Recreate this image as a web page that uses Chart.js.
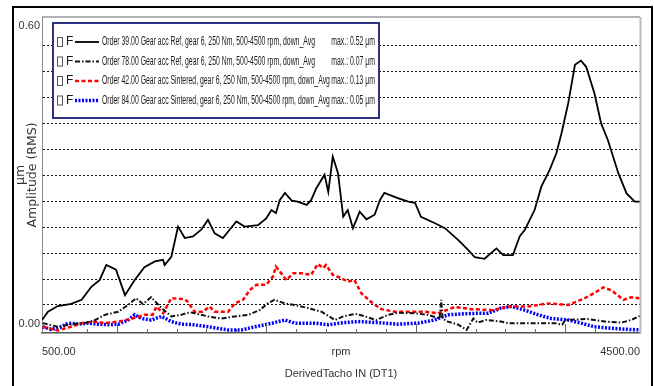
<!DOCTYPE html>
<html>
<head>
<meta charset="utf-8">
<script src="https://cdn.jsdelivr.net/npm/chart.js@4.4.0/dist/chart.umd.min.js"></script>
<style>
  html, body { margin: 0; padding: 0; background: #fff; }
  #wrap { position: relative; width: 654px; height: 386px; overflow: hidden; }
  #orderChart { position: absolute; left: 0; top: 0; }
  #frame { position: absolute; left: 12px; top: 6px; width: 641px; height: 420px;
           border: 2px solid #000; box-sizing: border-box; pointer-events: none; }
</style>
</head>
<body>
<div id="wrap">
  <canvas id="orderChart" width="654" height="386" style="width:654px;height:386px"></canvas>
  <div id="frame"></div>
</div>
<script>
// ============================================
// order tracks vs rpm (gear acc, gear 6, 250 Nm)
// ============================================

// --- Order 39.00, Ref (solid black) ---
const rpm39 = [500,540,605,695,765,830,885,930,995,1055,1120,1185,1255,1310,1320,1365,1410,1455,1510,1565,
  1610,1655,1710,1755,1800,1855,1945,2000,2035,2065,2090,2125,2170,2210,2270,2300,2335,2390,2415,2445,
  2480,2515,2545,2580,2625,2670,2725,2760,2790,2880,2950,2995,3035,3125,3195,3285,3350,3395,3460,3540,
  3585,3650,3695,3730,3795,3840,3895,3940,3975,4020,4065,4105,4140,4195,4240,4285,4355,4410,4465,4500];
const amp39 = [0.021,0.037,0.048,0.052,0.060,0.085,0.098,0.127,0.118,0.069,0.098,0.123,0.134,0.137,0.127,0.143,0.201,0.179,0.182,0.195,
  0.214,0.188,0.179,0.195,0.211,0.201,0.204,0.217,0.233,0.227,0.252,0.266,0.251,0.249,0.243,0.252,0.275,0.301,0.268,0.336,
  0.304,0.220,0.233,0.198,0.230,0.215,0.224,0.252,0.266,0.256,0.249,0.247,0.220,0.208,0.198,0.175,0.156,0.142,0.139,0.159,
  0.146,0.146,0.182,0.195,0.233,0.278,0.310,0.342,0.381,0.439,0.513,0.521,0.509,0.458,0.400,0.368,0.304,0.265,0.249,0.249];

// --- Order 78.00, Ref (dash-dot black) ---
const rpm78 = [505,605,695,785,855,920,1010,1075,1130,1175,1230,1300,1365,1430,1490,1610,1700,1790,1880,1955,
  2010,2055,2125,2190,2280,2370,2460,2515,2595,2660,2735,2815,2880,2995,3080,3160,3170,3180,3215,3285,
  3340,3385,3415,3470,3570,3615,3930,3980,4000,4150,4265,4375,4440,4500];
const amp78 = [0.015,0.008,0.013,0.015,0.021,0.031,0.037,0.050,0.063,0.052,0.065,0.044,0.028,0.031,0.036,0.028,0.024,0.028,0.031,0.040,
  0.053,0.060,0.053,0.050,0.044,0.037,0.021,0.028,0.033,0.028,0.021,0.031,0.035,0.034,0.031,0.024,0.060,0.024,0.018,0.012,
  0.002,0.024,0.016,0.021,0.018,0.015,0.015,0.012,0.021,0.023,0.018,0.016,0.021,0.029];

// --- Order 42.00, Sintered (red dashed) ---
const rpm42 = [505,605,695,765,855,920,1010,1095,1185,1240,1265,1310,1365,1455,1475,1520,1575,1620,1655,1745,
  1790,1845,1890,1935,2000,2045,2065,2100,2135,2180,2235,2300,2345,2380,2400,2445,2500,2545,2590,2635,
  2700,2770,2860,2970,3060,3150,3260,3370,3515,3615,3750,3885,4020,4130,4195,4255,4310,4390,4440,4500];
const amp42 = [0.008,0.001,0.008,0.015,0.018,0.015,0.018,0.023,0.031,0.031,0.047,0.034,0.063,0.061,0.056,0.037,0.037,0.047,0.037,0.037,
  0.053,0.060,0.079,0.089,0.089,0.105,0.124,0.111,0.098,0.111,0.111,0.108,0.129,0.121,0.127,0.108,0.102,0.095,0.098,0.073,
  0.056,0.042,0.037,0.037,0.037,0.034,0.046,0.042,0.040,0.047,0.047,0.053,0.050,0.063,0.073,0.084,0.078,0.060,0.065,0.063];

// --- Order 84.00, Sintered (blue dotted) ---
const rpm84 = [505,560,630,675,740,810,875,940,1010,1075,1120,1165,1230,1300,1365,1430,1510,1610,1745,1835,
  1925,2010,2125,2190,2325,2415,2515,2615,2750,2880,3015,3125,3215,3325,3415,3485,3570,3640,3730,3820,
  3905,4020,4105,4195,4310,4420,4500];
const amp84 = [0.008,0.003,0.008,0.015,0.013,0.015,0.013,0.012,0.013,0.021,0.031,0.024,0.021,0.028,0.018,0.013,0.012,0.008,0.002,0.002,
  0.008,0.013,0.021,0.015,0.015,0.012,0.016,0.018,0.016,0.013,0.015,0.021,0.031,0.033,0.034,0.034,0.044,0.047,0.040,0.031,
  0.024,0.021,0.015,0.008,0.005,0.003,0.002];

const seriesLabels = [
  "Order 39.00 Gear acc Ref, gear 6, 250 Nm, 500-4500 rpm, down_Avg",
  "Order 78.00 Gear acc Ref, gear 6, 250 Nm, 500-4500 rpm, down_Avg",
  "Order 42.00 Gear acc Sintered, gear 6, 250 Nm, 500-4500 rpm, down_Avg",
  "Order 84.00 Gear acc Sintered, gear 6, 250 Nm, 500-4500 rpm, down_Avg"
];
const maxLabels = ["max.: 0.52 µm", "max.: 0.07 µm", "max.: 0.13 µm", "max.: 0.05 µm"];

// axis ticks
const yTicks = [0, 0.05, 0.1, 0.15, 0.2, 0.25, 0.3, 0.35, 0.4, 0.45, 0.5, 0.55, 0.6];
const xLabelTicks = [500, 2500, 4500];
const xMarkTicks = [800,1000,1200,1400,1600,1800,2000,2200,2400,2600,2800,3000,3200,3400,3600,3800,4000,4200];

const NARROW = "'Liberation Sans Narrow', 'Liberation Sans', sans-serif";

function pts(xs, ys) {
    return xs.map((x, i) => ({ x: x, y: ys[i] }));
}

// ==========================
// plugins
// ==========================
// short tick marks standing up from the bottom axis
const innerTicks = {
    id: "innerTicks",
    afterDatasetsDraw(chart) {
        const { ctx, chartArea, scales } = chart;
        ctx.save();
        ctx.strokeStyle = "#666";
        ctx.lineWidth = 1;
        for (const v of xMarkTicks) {
            const px = Math.round(scales.x.getPixelForValue(v)) + 0.5;
            const len = v % 1000 === 0 ? 9 : 4;
            ctx.beginPath();
            ctx.moveTo(px, chartArea.bottom);
            ctx.lineTo(px, chartArea.bottom - len);
            ctx.stroke();
        }
        ctx.restore();
    }
};

// top + right edge of the plot
const plotEdge = {
    id: "plotEdge",
    afterDatasetsDraw(chart) {
        const { ctx, chartArea: a } = chart;
        ctx.save();
        ctx.strokeStyle = "#9a9a9a";
        ctx.lineWidth = 1.5;
        ctx.beginPath();
        ctx.moveTo(a.left, a.top);
        ctx.lineTo(a.right, a.top);
        ctx.stroke();
        ctx.strokeStyle = "#bdbdbd";
        ctx.lineWidth = 2;
        ctx.beginPath();
        ctx.moveTo(a.right + 0.5, a.top);
        ctx.lineTo(a.right + 0.5, a.bottom);
        ctx.stroke();
        ctx.restore();
    }
};

// boxed legend: checkbox, F, line sample, label, max value
const boxLegend = {
    id: "boxLegend",
    afterDraw(chart) {
        const { ctx, chartArea } = chart;
        const x0 = chartArea.left + 11, y0 = chartArea.top + 6, w = 326, h = 95;
        ctx.save();
        ctx.fillStyle = "#fff";
        ctx.fillRect(x0, y0, w, h);
        ctx.strokeStyle = "#2e3080";
        ctx.lineWidth = 2;
        ctx.strokeRect(x0, y0, w, h);

        ctx.font = "12px " + NARROW;
        ctx.textBaseline = "middle";
        const squeeze = 213 / ctx.measureText(chart.data.datasets[0].label).width;

        chart.data.datasets.forEach((ds, i) => {
            const cy = y0 + 19 + i * 19.5;
            ctx.setLineDash([]);
            ctx.strokeStyle = "#555";
            ctx.lineWidth = 1;
            ctx.strokeRect(x0 + 4.5, cy - 4.5, 5, 9);

            ctx.fillStyle = "#1a1a1a";
            ctx.textAlign = "left";
            ctx.fillText("F", x0 + 13, cy);

            ctx.strokeStyle = ds.borderColor;
            ctx.lineWidth = ds.borderWidth;
            ctx.setLineDash(ds.borderDash || []);
            ctx.beginPath();
            ctx.moveTo(x0 + 22, cy);
            ctx.lineTo(x0 + 46, cy);
            ctx.stroke();
            ctx.setLineDash([]);

            const tw = ctx.measureText(ds.label).width;
            ctx.fillText(ds.label, x0 + 49, cy, tw * squeeze);
            ctx.textAlign = "right";
            const mw = ctx.measureText(maxLabels[i]).width;
            ctx.fillText(maxLabels[i], x0 + 322, cy, mw * squeeze);
        });
        ctx.restore();
    }
};

// ==========================
// chart
// ==========================
new Chart(document.getElementById("orderChart"), {
    type: "line",
    data: {
        datasets: [
            { label: seriesLabels[0], data: pts(rpm39, amp39), borderColor: "#000000", borderWidth: 1.8 },
            { label: seriesLabels[1], data: pts(rpm78, amp78), borderColor: "#111111", borderWidth: 2, borderDash: [5, 2, 1.5, 2] },
            { label: seriesLabels[2], data: pts(rpm42, amp42), borderColor: "#ff0000", borderWidth: 2.5, borderDash: [4, 2.5] },
            { label: seriesLabels[3], data: pts(rpm84, amp84), borderColor: "#0000ff", borderWidth: 3.5, borderDash: [2, 1.5] }
        ]
    },
    options: {
        responsive: false,
        animation: false,
        layout: { padding: { left: 0, top: 17, right: 14, bottom: 0 } },
        elements: { point: { radius: 0 }, line: { tension: 0 } },
        plugins: { legend: { display: false }, tooltip: { enabled: false } },
        scales: {
            x: {
                type: "linear",
                min: 500,
                max: 4500,
                afterBuildTicks: s => { s.ticks = xLabelTicks.map(v => ({ value: v })); },
                afterFit: s => { s.height = 53; },
                ticks: {
                    autoSkip: false,
                    maxRotation: 0,
                    align: "inner",
                    padding: 4,
                    color: "#333",
                    font: { family: NARROW, size: 11 },
                    callback: v => v === 2500 ? "rpm" : v.toFixed(2)
                },
                grid: { display: false },
                border: { display: true, color: "#555", width: 1.5 },
                title: {
                    display: true,
                    text: "DerivedTacho IN (DT1)",
                    color: "#333",
                    font: { family: NARROW, size: 11 },
                    padding: { top: 0, bottom: 5 }
                }
            },
            y: {
                min: -0.004,
                max: 0.605,
                afterBuildTicks: s => { s.ticks = yTicks.map(v => ({ value: v })); },
                afterFit: s => { s.width = 42; },
                ticks: {
                    autoSkip: false,
                    padding: 2,
                    color: "#333",
                    font: { family: NARROW, size: 11 },
                    callback: v => v === 0 ? [v.toFixed(2), ""] : v === 0.6 ? ["", v.toFixed(2)] : ""
                },
                grid: {
                    drawTicks: false,
                    lineWidth: 1,
                    color: c => (c.tick && (c.tick.value === 0 || c.tick.value === 0.6)) ? "rgba(0,0,0,0)" : "#111"
                },
                border: { display: true, color: "#8a8a8a", width: 1, dash: [2, 2] },
                title: {
                    display: true,
                    text: ["µm", "Amplitude (RMS)"],
                    color: "#333",
                    font: { family: "DejaVu Sans", size: 12.5, lineHeight: 1 },
                    padding: { top: 14, bottom: 0 }
                }
            }
        }
    },
    plugins: [innerTicks, plotEdge, boxLegend]
});
</script>
</body>
</html>
